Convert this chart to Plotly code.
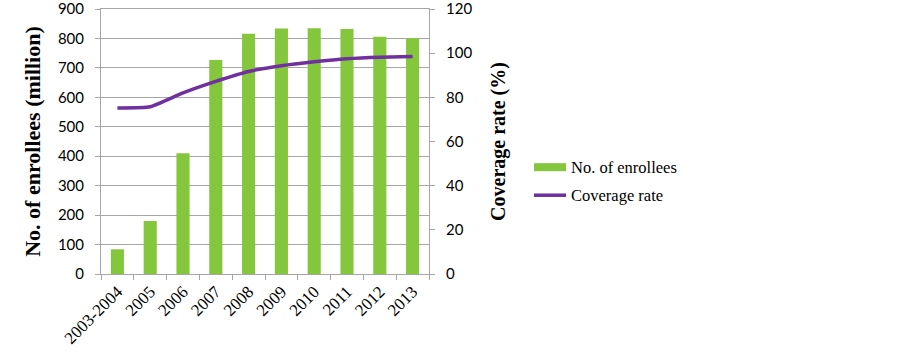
import plotly.graph_objects as go

years = ["2003-2004", "2005", "2006", "2007", "2008", "2009", "2010", "2011", "2012", "2013"]
enrollees = [84, 180, 410, 727, 816, 834, 835, 832, 806, 801]
coverage = [75.2, 75.7, 82.0, 87.2, 91.7, 94.3, 96.1, 97.5, 98.2, 98.5]
series_names = ["No. of enrollees", "Coverage rate"]

green = "#84C73C"
purple = "#7030A0"
grid = "#A6A6A6"
serif = "Liberation Serif, Times New Roman, serif"
sans = "Lato, Open Sans, sans-serif"

fig = go.Figure()
fig.add_trace(go.Bar(x=years, y=enrollees, name=series_names[0],
                     marker=dict(color=green, line=dict(width=0)), width=0.4))
fig.add_trace(go.Scatter(x=years, y=coverage, name=series_names[1], yaxis="y2",
                         mode="lines", line=dict(color=purple, width=3.5, shape="spline", smoothing=0.5)))

# plot area on the page spans x 101..429, y 9..273.7
L, W = 101, 328
def px(xp):
    return (xp - L) / W
B, H = 273.7, 264.7
def py(yp):
    return (B - yp) / H

shapes = [
    dict(type="rect", xref="paper", yref="paper", x0=px(534), x1=px(566), y0=py(171), y1=py(163),
         fillcolor=green, line=dict(width=0)),
    dict(type="line", xref="paper", yref="paper", x0=px(534), x1=px(566), y0=py(195), y1=py(195),
         line=dict(color=purple, width=3.5)),
]
annotations = [
    dict(xref="paper", yref="paper", x=px(569), y=py(167), text=series_names[0], showarrow=False,
         xanchor="left", yanchor="middle", font=dict(family=serif, size=16.5, color="black")),
    dict(xref="paper", yref="paper", x=px(569), y=py(195), text=series_names[1], showarrow=False,
         xanchor="left", yanchor="middle", font=dict(family=serif, size=16.5, color="black")),
]

fig.update_layout(
    width=903, height=359,
    margin=dict(l=101, r=474, t=9, b=85.3, autoexpand=False),
    paper_bgcolor="white", plot_bgcolor="white",
    showlegend=False,
    shapes=shapes, annotations=annotations,
    xaxis=dict(type="category", tickangle=-45, automargin=False,
               tickfont=dict(family=serif, size=17, color="black"),
               showline=True, linecolor=grid, linewidth=1, mirror=True,
               ticks="outside", tickson="boundaries", ticklen=5, tickcolor=grid,
               showgrid=False, fixedrange=True),
    yaxis=dict(range=[0, 900], dtick=100, automargin=False,
               tickfont=dict(family=sans, size=15, color="black"), ticklabeloverflow="allow",
               ticklabelstandoff=8,
               showgrid=True, gridcolor=grid, gridwidth=1,
               showline=True, linecolor=grid, ticks="outside", ticklen=5, tickcolor=grid,
               zeroline=False,
               title=dict(text="<b>No. of enrollees (million)</b>",
                          font=dict(family=serif, size=22, color="black"),
                          standoff=11)),
    yaxis2=dict(range=[0, 120], dtick=20, overlaying="y", side="right", automargin=False,
                tickfont=dict(family=sans, size=15, color="black"),
                ticklabeloverflow="allow", ticklabelstandoff=8,
                showgrid=False, showline=True, linecolor=grid, ticks="outside", ticklen=5, tickcolor=grid,
                zeroline=False,
                title=dict(text="<b>Coverage rate (%)</b>",
                           font=dict(family=serif, size=20, color="black"),
                           standoff=19)),
)
fig.write_html("out.html", config={"displayModeBar": False},
               post_script="document.body.style.margin='0';")
